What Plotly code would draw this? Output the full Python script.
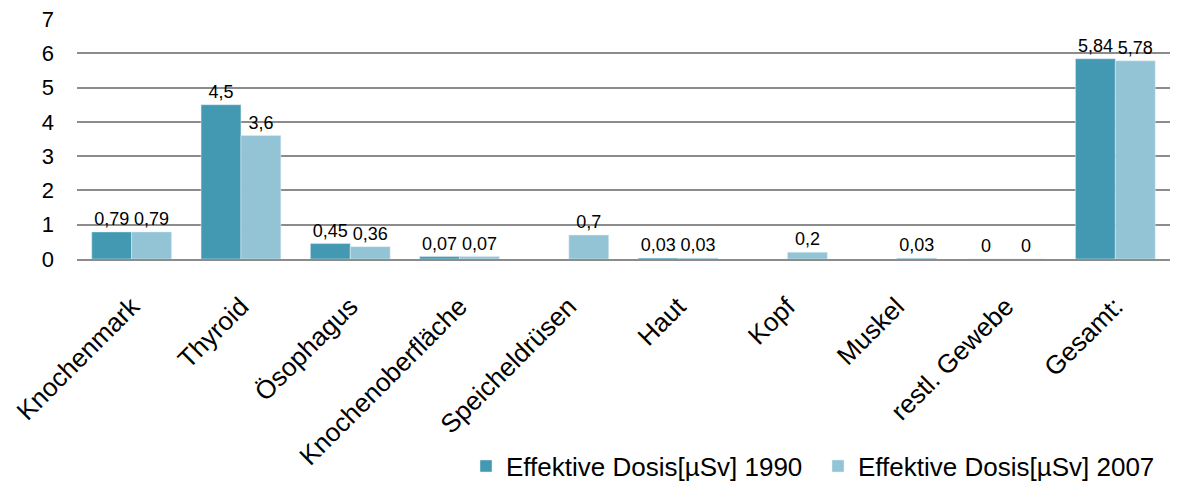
import plotly.graph_objects as go

categories = ["Knochenmark", "Thyroid", "Ösophagus", "Knochenoberfläche", "Speicheldrüsen",
              "Haut", "Kopf", "Muskel", "restl. Gewebe", "Gesamt:"]
dose_1990 = [0.79, 4.5, 0.45, 0.07, None, 0.03, None, None, 0, 5.84]
dose_2007 = [0.79, 3.6, 0.36, 0.07, 0.7, 0.03, 0.2, 0.03, 0, 5.78]
series_names = ["Effektive Dosis[µSv] 1990", "Effektive Dosis[µSv] 2007"]
colors = ["#4399B1", "#93C4D5"]


def fmt(v):
    if v is None:
        return ""
    return ("%g" % v).replace(".", ",")


fig = go.Figure()
for name, vals, col in zip(series_names, [dose_1990, dose_2007], colors):
    fig.add_trace(go.Bar(
        x=categories, y=vals, name=name, marker_color=col,
        text=[fmt(v) for v in vals], textposition="outside", constraintext="none",
        textfont=dict(size=18, color="#000000", family="Liberation Sans, Arial"),
        cliponaxis=False,
    ))

fig.update_layout(
    width=1184, height=483,
    margin=dict(l=77, r=14, t=19, b=224),
    barmode="group", bargap=0.27, bargroupgap=0,
    plot_bgcolor="white", paper_bgcolor="white",
    font=dict(family="Liberation Sans, Arial", size=20, color="#000000"),
    showlegend=True,
    legend=dict(orientation="h", x=1.0, xanchor="right", xref="paper",
                y=0.035, yanchor="middle", yref="container",
                font=dict(size=26), itemwidth=30, traceorder="normal",
                entrywidth=307, entrywidthmode="pixels",
                borderwidth=0, bgcolor="rgba(0,0,0,0)"),
)
fig.update_yaxes(range=[0, 7], dtick=1, showgrid=True, gridcolor="#8C8C8C", gridwidth=2,
                 zeroline=False, showline=False, ticklabelstandoff=22,
                 tickfont=dict(size=22), automargin=False)
fig.update_xaxes(tickangle=-45, showline=True, linecolor="#8C8C8C", linewidth=2,
                 tickfont=dict(size=26), ticks="outside", ticklen=20,
                 tickcolor="rgba(0,0,0,0)", automargin=False)

fig.write_html("out.html")
